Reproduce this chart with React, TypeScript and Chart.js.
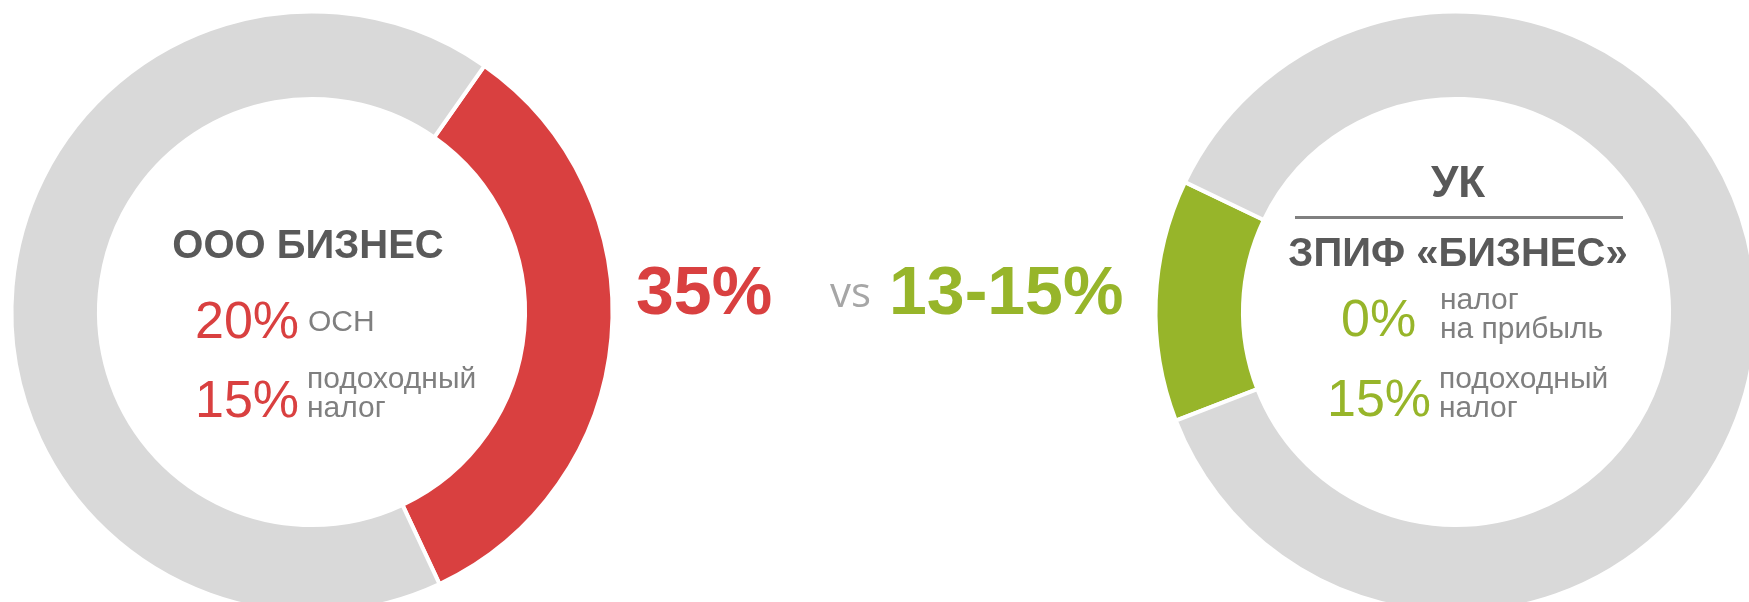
import React, { useEffect, useRef } from 'react';
import { Chart, registerables } from 'chart.js';

Chart.register(...registerables);

// ---- data ----
const leftCategories = ['Налоги ООО', 'Остальное'];
const leftValues = [33.3, 66.7];
const rightCategories = ['Налоги ЗПИФ', 'Остальное'];
const rightValues = [13, 87];

const RED = '#D94040';
const GREEN = '#97B52A';
const RING = '#D9D9D9';
const DARK = '#595959';
const GREY = '#7F7F7F';
const VS = '#A6A6A6';

const SANS = '"Liberation Sans", Arial, sans-serif';
const OPEN = '"Open Sans", sans-serif';

function Donut(props: { labels: string[]; values: number[]; colors: string[]; rotation: number; left: number; top: number }) {
  const ref = useRef<HTMLCanvasElement>(null);
  useEffect(() => {
    const chart = new Chart(ref.current as HTMLCanvasElement, {
      type: 'doughnut',
      data: {
        labels: props.labels,
        datasets: [
          {
            data: props.values,
            backgroundColor: props.colors,
            borderColor: '#ffffff',
            borderWidth: 4,
            hoverOffset: 0,
          },
        ],
      },
      options: {
        responsive: false,
        animation: false,
        events: [],
        rotation: props.rotation,
        radius: 300.5,
        cutout: '70.9%',
        layout: { padding: 0 },
        plugins: { legend: { display: false }, tooltip: { enabled: false } },
      } as any,
    });
    return () => chart.destroy();
  }, []);
  return (
    <canvas
      ref={ref}
      width={700}
      height={700}
      style={{ position: 'absolute', left: props.left, top: props.top, width: 700, height: 700 }}
    />
  );
}

function T(props: {
  x: number;
  y: number;
  size: number;
  color: string;
  bold?: boolean;
  center?: boolean;
  font?: string;
  children: React.ReactNode;
}) {
  const font = props.font || SANS;
  const k = font === OPEN ? (1 + 1.069 - 0.293) / 2 : (1 + 0.905 - 0.212) / 2;
  const style: React.CSSProperties = {
    position: 'absolute',
    top: props.y - k * props.size,
    left: props.x,
    fontFamily: font,
    fontSize: props.size,
    lineHeight: `${props.size}px`,
    fontWeight: props.bold ? 700 : 400,
    color: props.color,
    whiteSpace: 'nowrap',
    transform: props.center ? 'translateX(-50%)' : undefined,
  };
  return <div style={style}>{props.children}</div>;
}

export default function App() {
  useEffect(() => {
    document.body.style.margin = '0';
    document.body.style.overflow = 'hidden';
  }, []);
  return (
    <div style={{ position: 'relative', width: 1749, height: 602, overflow: 'hidden', background: '#ffffff' }}>
      <Donut labels={leftCategories} values={leftValues} colors={[RED, RING]} rotation={35} left={-38} top={-38} />
      <Donut labels={rightCategories} values={rightValues} colors={[GREEN, RING]} rotation={248.8} left={1106} top={-38} />

      {/* left donut text */}
      <T x={308} y={258} size={40} color={DARK} bold center>ООО БИЗНЕС</T>
      <T x={195} y={338} size={52} color={RED}>20%</T>
      <T x={308} y={331} size={30} color={GREY}>ОСН</T>
      <T x={195} y={417} size={52} color={RED}>15%</T>
      <T x={307} y={388} size={30} color={GREY}>подоходный</T>
      <T x={307} y={417} size={30} color={GREY}>налог</T>

      {/* middle */}
      <T x={636} y={314} size={68} color={RED} bold>35%</T>
      <T x={830} y={307} size={42} color={VS} font={OPEN}>vs</T>
      <T x={889} y={314} size={68} color={GREEN} bold>13-15%</T>

      {/* right donut text */}
      <T x={1458} y={197} size={44} color={DARK} bold center>УК</T>
      <div style={{ position: 'absolute', left: 1295, top: 216, width: 328, height: 2.5, background: '#808080' }} />
      <T x={1458} y={266} size={40} color={DARK} bold center>ЗПИФ «БИЗНЕС»</T>
      <T x={1341} y={336} size={52} color={GREEN}>0%</T>
      <T x={1440} y={309} size={30} color={GREY}>налог</T>
      <T x={1440} y={338} size={30} color={GREY}>на прибыль</T>
      <T x={1327} y={416} size={52} color={GREEN}>15%</T>
      <T x={1439} y={388} size={30} color={GREY}>подоходный</T>
      <T x={1439} y={417} size={30} color={GREY}>налог</T>
    </div>
  );
}
